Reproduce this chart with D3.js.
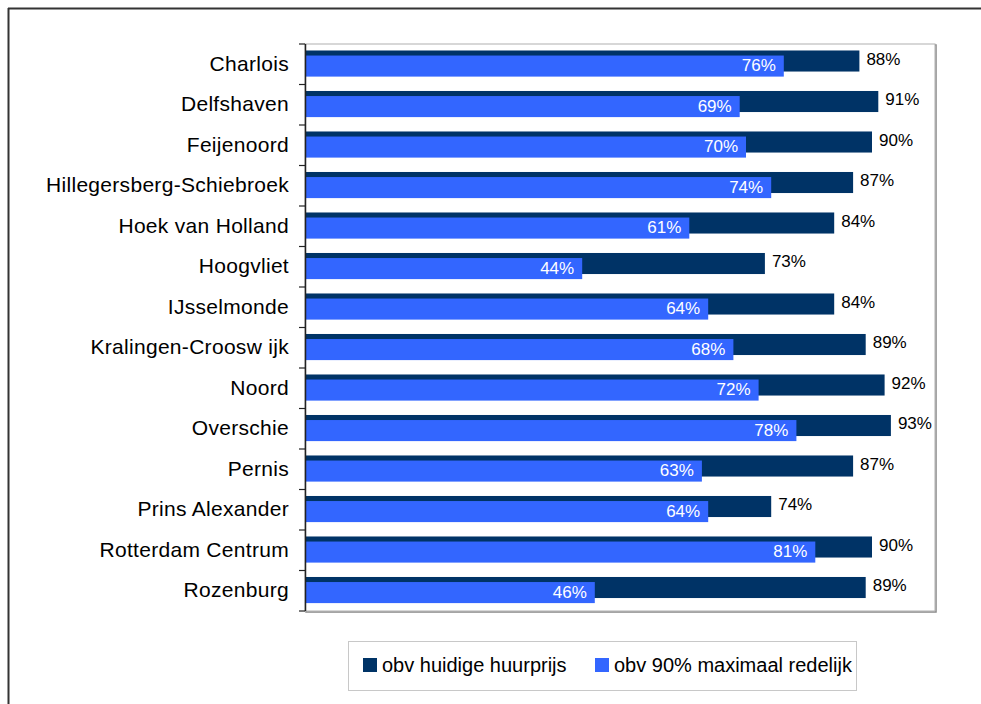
<!DOCTYPE html>
<html><head><meta charset="utf-8">
<script src="https://cdn.jsdelivr.net/npm/d3@7"></script>
<style>body{margin:0;background:#fff}svg{display:block;font-family:"Liberation Sans",Arial,sans-serif}</style>
</head><body><svg id="c" width="981" height="704"></svg>
<script>
const categories = ["Charlois","Delfshaven","Feijenoord","Hillegersberg-Schiebroek","Hoek van Holland","Hoogvliet","IJsselmonde","Kralingen-Croosw ijk","Noord","Overschie","Pernis","Prins Alexander","Rotterdam Centrum","Rozenburg"];
const huidige = [88,91,90,87,84,73,84,89,92,93,87,74,90,89];
const maximaal = [76,69,70,74,61,44,64,68,72,78,63,64,81,46];
const seriesNames = ["obv huidige huurprijs","obv 90% maximaal redelijk"];
const colors = ["#003366","#3366FF"];

const svg = d3.select("#c");
const L=305, R=935, T=44, B=611;
const x = d3.scaleLinear().domain([0,100]).range([L,R]);
const y = d3.scaleBand().domain(categories).range([T,B]).paddingInner(0);
const bw = y.bandwidth();

// outer frame
svg.append("line").attr("x1",8).attr("x2",981).attr("y1",8.5).attr("y2",8.5).attr("stroke","#333").attr("stroke-width",2);
svg.append("line").attr("x1",8.5).attr("x2",8.5).attr("y1",8).attr("y2",704).attr("stroke","#333").attr("stroke-width",2);

// plot area border with shadow
svg.append("rect").attr("x",L+1).attr("y",T+1).attr("width",R-L).attr("height",B-T).attr("fill","none").attr("stroke","#888").attr("stroke-width",1.5);
svg.append("rect").attr("x",L).attr("y",T).attr("width",R-L).attr("height",B-T).attr("fill","#fff").attr("stroke","#b0b0b0").attr("stroke-width",1);

const g = svg.append("g");
// dark bars
g.selectAll(".d").data(categories).join("rect")
  .attr("x",L).attr("y",c=>y(c)+bw*0.16).attr("height",bw*0.52)
  .attr("width",(c,i)=>x(huidige[i])-L).attr("fill",colors[0]);
// blue bars
g.selectAll(".b").data(categories).join("rect")
  .attr("x",L).attr("y",c=>y(c)+bw*0.285).attr("height",bw*0.52)
  .attr("width",(c,i)=>x(maximaal[i])-L).attr("fill",colors[1]);

// value labels
g.selectAll(".dl").data(categories).join("text")
  .attr("x",(c,i)=>x(huidige[i])+7).attr("y",c=>y(c)+bw*0.51)
  .attr("font-size",17).attr("fill","#000").text((c,i)=>huidige[i]+"%");
g.selectAll(".bl").data(categories).join("text")
  .attr("x",(c,i)=>x(maximaal[i])-8).attr("y",c=>y(c)+bw*0.67)
  .attr("text-anchor","end").attr("font-size",17).attr("fill","#fff").text((c,i)=>maximaal[i]+"%");

// category axis
const ax = svg.append("g").attr("transform",`translate(${L},0)`)
  .call(d3.axisLeft(y).tickSize(0).tickPadding(16));
ax.select(".domain").remove();
ax.selectAll("text").attr("font-size",21).attr("letter-spacing","0.3px").attr("fill","#000").attr("font-family","Liberation Sans, Arial, sans-serif");
// axis line and boundary ticks
svg.append("line").attr("x1",L+0.5).attr("x2",L+0.5).attr("y1",T).attr("y2",B).attr("stroke","#222").attr("stroke-width",1.5);
svg.selectAll(".tk").data(d3.range(categories.length+1)).join("line")
  .attr("x1",L-6).attr("x2",L).attr("y1",i=>T+i*bw).attr("y2",i=>T+i*bw).attr("stroke","#222").attr("stroke-width",1.2);

// legend
const lg = svg.append("g");
lg.append("rect").attr("x",348.5).attr("y",641.5).attr("width",508).attr("height",49).attr("fill","#fff").attr("stroke","#c8c8c8");
const lx=[363,595];
seriesNames.forEach((n,i)=>{
  lg.append("rect").attr("x",lx[i]).attr("y",658).attr("width",14).attr("height",14).attr("fill",colors[i]);
  lg.append("text").attr("x",lx[i]+19).attr("y",672).attr("font-size",20).attr("fill","#000").text(n);
});
</script></body></html>
